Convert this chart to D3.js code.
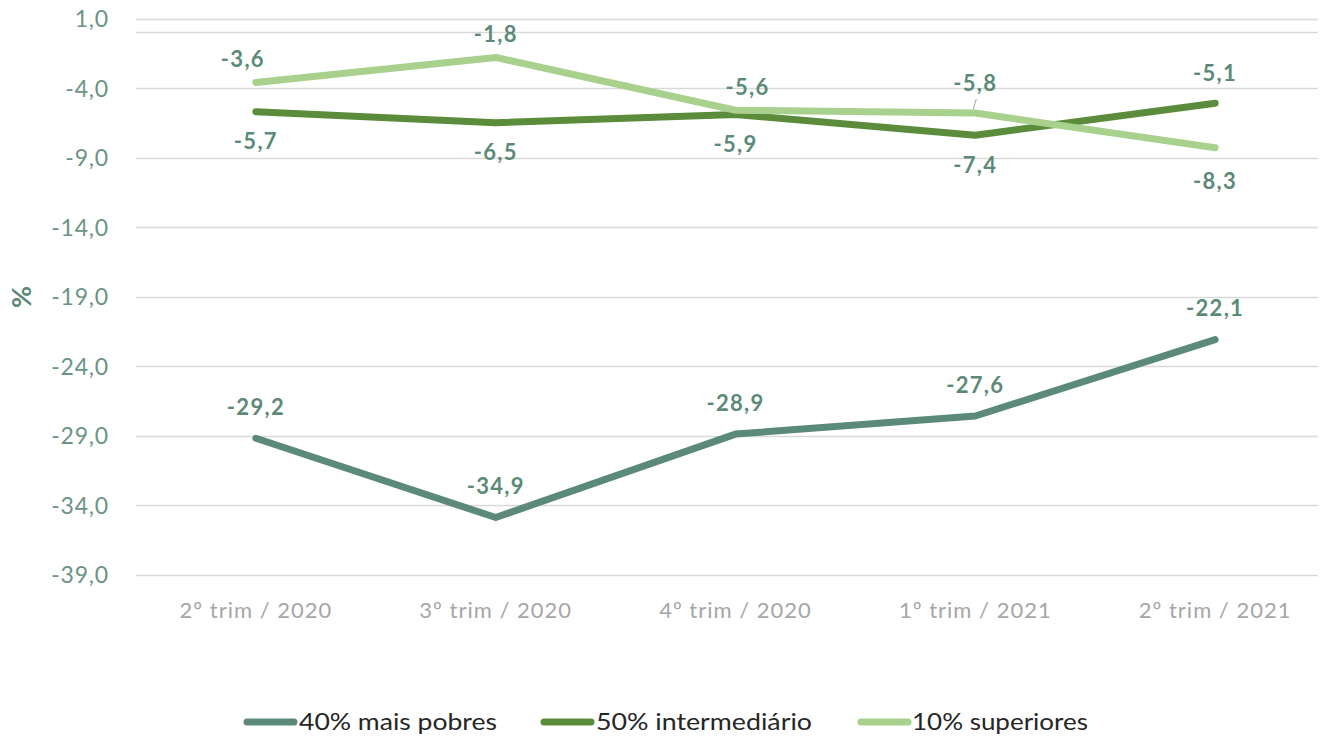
<!DOCTYPE html>
<html><head><meta charset="utf-8">
<script src="https://cdn.jsdelivr.net/npm/d3@7"></script>
<style>
html,body{margin:0;padding:0;background:#fff;}
svg{display:block;font-family:Lato,"Open Sans",sans-serif;}
</style></head>
<body>
<svg id="chart" width="1328" height="737"></svg>
<script>
const categories = ["2º trim / 2020","3º trim / 2020","4º trim / 2020","1º trim / 2021","2º trim / 2021"];
const seriesNames = ["40% mais pobres","50% intermediário","10% superiores"];
const pobres = [-29.2,-34.9,-28.9,-27.6,-22.1];
const intermediario = [-5.7,-6.5,-5.9,-7.4,-5.1];
const superiores = [-3.6,-1.8,-5.6,-5.8,-8.3];
const yTicks = [1,-4,-9,-14,-19,-24,-29,-34,-39];

(function(){
const colors = ["#5b8a78","#5b8c3b","#a9d18e"];
// label placement (layout, not data): +1 above, -1 below
const labelSide = [
  [1,1,1,1,1],
  [-1,-1,-1,-1,1],
  [1,1,1,1,-1]
];

const svg = d3.select("#chart");
const pLeft = 136, pRight = 1335, pTop = 18.5, pBottom = 574.5;
const x = d3.scaleBand().domain(categories).range([pLeft,pRight]);
const y = d3.scaleLinear().domain([-39,1]).range([pBottom,pTop]);
const cx = c => x(c) + x.bandwidth()/2;

// gridlines
svg.append("g").selectAll("line").data(yTicks).join("line")
  .attr("x1",pLeft).attr("x2",1318)
  .attr("y1",d=>Math.round(y(d))+0.5).attr("y2",d=>Math.round(y(d))+0.5)
  .attr("stroke","#d9d9d9").attr("stroke-width",1.5);
// horizontal category axis at 0
svg.append("line").attr("x1",pLeft).attr("x2",1318)
  .attr("y1",Math.round(y(0))+0.5).attr("y2",Math.round(y(0))+0.5)
  .attr("stroke","#d9d9d9").attr("stroke-width",1.5);

// y tick labels
const fmt = v => d3.format(".1f")(v).replace("−","-").replace(".",",");
const yAxis = d3.axisLeft(y).tickValues(yTicks).tickSize(0).tickPadding(0).tickFormat(fmt);
const ga = svg.append("g").attr("transform","translate(109,0)").call(yAxis);
ga.select(".domain").remove();
ga.selectAll("text").attr("font-size",23).attr("fill","#6a9483").attr("font-family","Lato,sans-serif")
  .attr("letter-spacing","0.8px").attr("dy","0.35em");

// y title
svg.append("text").attr("transform","translate(31,297) rotate(-90)")
  .attr("text-anchor","middle").attr("font-size",27).attr("font-weight","bold")
  .attr("fill","#5b8a78").text("%");

// x labels
const xAxis = d3.axisBottom(x).tickSize(0).tickPadding(0);
const gx = svg.append("g").attr("transform","translate(0,610)").call(xAxis);
gx.select(".domain").remove();
gx.selectAll("text").attr("font-size",22).attr("fill","#a6a6a6").attr("font-family","Lato,sans-serif")
  .attr("letter-spacing","1px").attr("dy","0.35em");

// lines
const all = [pobres,intermediario,superiores];
const line = d3.line().x((d,i)=>cx(categories[i])).y(d=>y(d));
all.forEach((vals,si)=>{
  svg.append("path").datum(vals).attr("d",line)
    .attr("fill","none").attr("stroke",colors[si]).attr("stroke-width",7)
    .attr("stroke-linecap","round").attr("stroke-linejoin","round");
});

// leader line for -5,8
svg.append("line").attr("x1",cx(categories[3])+1).attr("y1",y(superiores[3])-14)
  .attr("x2",cx(categories[3])-2).attr("y2",y(superiores[3])-4)
  .attr("stroke","#a6a6a6").attr("stroke-width",1);

// data labels
const offsets = [31,30,23];
all.forEach((vals,si)=>{
  svg.append("g").selectAll("text").data(vals).join("text")
    .attr("x",(d,i)=>cx(categories[i]) + (si===2 && i===0 ? -13 : 0) + (si===2 && i===2 ? 12 : 0))
    .attr("y",(d,i)=>{
      const s = labelSide[si][i];
      let off = offsets[si];
      if (si===2 && i===3) off = 30;
      if (si===2 && i===4) off = 34;
      return y(d) - s*off;
    })
    .attr("dy","0.35em").attr("text-anchor","middle")
    .attr("font-size",22).attr("font-weight","bold").attr("fill","#5b8a78")
    .attr("letter-spacing","1.3px")
    .text(fmt);
});

// legend
const legendItems = [
  {sx:244, tx:299, tw:198},
  {sx:541, tx:596, tw:216},
  {sx:858, tx:912, tw:176}
];
const lg = svg.append("g");
seriesNames.forEach((n,i)=>{
  const it = legendItems[i];
  lg.append("line").attr("x1",it.sx+3).attr("x2",it.sx+50).attr("y1",722).attr("y2",722)
    .attr("stroke",colors[i]).attr("stroke-width",7).attr("stroke-linecap","round");
  lg.append("text").attr("x",it.tx).attr("y",722).attr("dy","0.35em")
    .attr("font-size",24).attr("fill","#262626")
    .attr("textLength",it.tw).attr("lengthAdjust","spacingAndGlyphs")
    .text(n);
});
})();
</script>
</body></html>
